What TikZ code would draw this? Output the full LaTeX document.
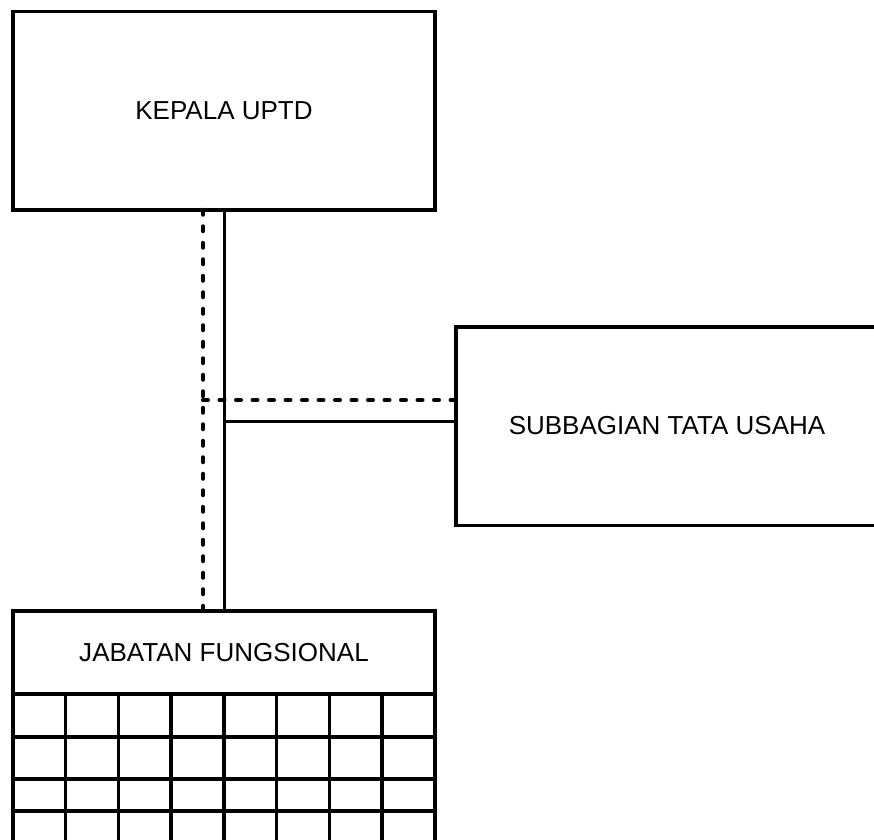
\documentclass[tikz,border=0pt]{standalone}
\usepackage{fontspec}
\setmainfont{Liberation Sans}
\usetikzlibrary{positioning, calc}
\tikzset{%
	unit/.style={draw, rectangle, line width=0.07cm, minimum width=8.44cm,%
		minimum height=3.97cm, inner sep=0mm, outer sep=0mm,%
		font=\fontsize{14.8}{17}\selectfont},
	header/.style={unit, minimum height=1.66cm},
	link/.style={line width=0.06cm},
	coord/.style={line width=0.08cm, line cap=round, dash pattern=on 0.1cm off 0.23cm},
	cell/.style={line width=0.07cm}
}
\begin{document}
\begin{tikzpicture}
	\clip (0,0) rectangle (17.48,-16.8);
	\node[unit] (kepala) at (4.48,-2.21) {KEPALA UPTD};
	\node[unit, below right=2.34cm and 0.42cm of kepala] (subbag) {SUBBAGIAN TATA USAHA};
	\node[header, below=8.02cm of kepala] (jabatan) {JABATAN FUNGSIONAL};

	% command lines
	\draw[link] (kepala) -- (jabatan);
	\coordinate (tee) at (4.48,-8.42);
	\draw[link] (tee) -- (tee -| subbag.west);

	% coordination lines
	\coordinate (dtop) at ([xshift=-0.42cm]kepala.south);
	\draw[coord] (dtop) -- (dtop |- jabatan.north);
	\coordinate (dmid) at (4.06,-8.0);
	\draw[coord] (dmid) -- (dmid -| subbag.west);

	% staff grid
	\foreach \i in {0,...,8}
		\draw[cell] ($(jabatan.south west)+(\i*1.055,0)$) -- ++(0,-3.5);
	\foreach \y in {-14.74,-15.58,-16.22}
		\draw[cell] (jabatan.south west |- 0,\y) -- (jabatan.south east |- 0,\y);
\end{tikzpicture}
\end{document}
